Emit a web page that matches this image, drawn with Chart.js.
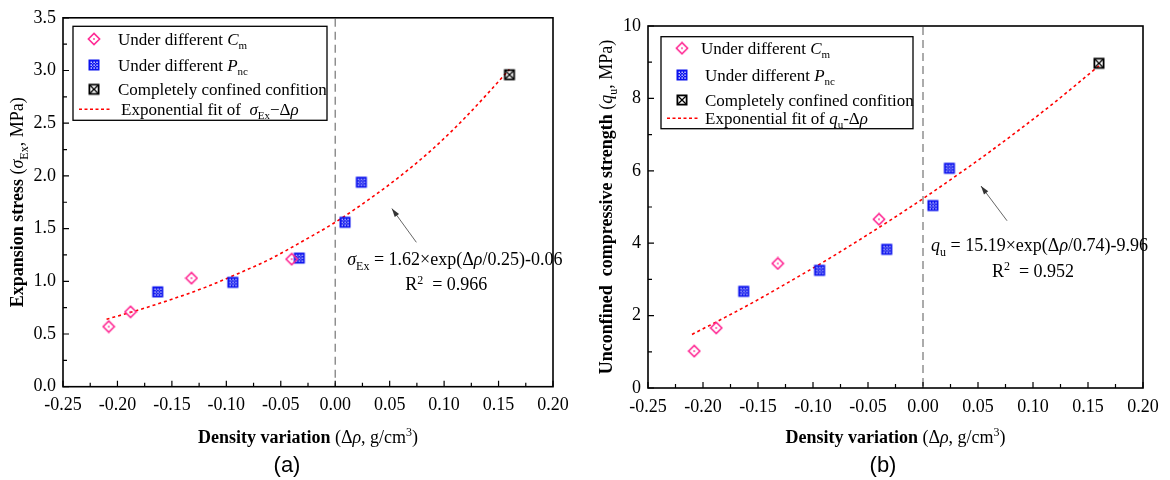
<!DOCTYPE html>
<html>
<head>
<meta charset="utf-8">
<script src="https://cdn.jsdelivr.net/npm/chart.js@4.4.0/dist/chart.umd.min.js"></script>
<style>
  html, body { margin: 0; padding: 0; background: #fff; }
  #wrap { position: relative; width: 1170px; height: 480px; }
  canvas { position: absolute; top: 0; }
  #chartA { left: 0; }
  #chartB { left: 585px; }
</style>
</head>
<body>
<div id="wrap">
  <canvas id="chartA" width="585" height="480"></canvas>
  <canvas id="chartB" width="585" height="480"></canvas>
</div>
<script>
// density variation of each specimen group (g/cm3)
var densityCm = [-0.208, -0.188, -0.132, -0.040];
var densityPnc = [-0.163, -0.094, -0.033, 0.009, 0.024];
var densityConfined = [0.160];
var densityFit = [-0.21, -0.18, -0.15, -0.12, -0.09, -0.06, -0.03, 0, 0.03, 0.06, 0.09, 0.12, 0.16];

// (a) expansion stress, MPa
var stressCm = [0.57, 0.71, 1.03, 1.21];
var stressPnc = [0.90, 0.99, 1.22, 1.56, 1.94];
var stressConfined = [2.96];
var stressFit = [0.64, 0.73, 0.83, 0.94, 1.07, 1.21, 1.38, 1.56, 1.77, 2.00, 2.26, 2.56, 3.01];

// (b) unconfined compressive strength, MPa
var strengthCm = [1.02, 1.66, 3.44, 4.66];
var strengthPnc = [2.67, 3.25, 3.83, 5.04, 6.07];
var strengthConfined = [8.97];
var strengthFit = [1.48, 1.95, 2.44, 2.96, 3.49, 4.05, 4.63, 5.23, 5.86, 6.51, 7.19, 7.90, 8.90];

var SERIF = "'Liberation Serif', 'Times New Roman', serif";
var PINK = '#ff2b95';
var BLUE = '#0b12ee';

function pts(xs, ys) {
  return xs.map(function (x, i) { return { x: x, y: ys[i] }; });
}

// marker symbols drawn once on small canvases and used as pointStyle
function marker(kind) {
  var c = document.createElement('canvas');
  c.width = 14; c.height = 14;
  var g = c.getContext('2d');
  if (kind === 'diamond') {
    g.strokeStyle = PINK; g.lineWidth = 1.6;
    g.beginPath();
    g.moveTo(7, 1.4); g.lineTo(12.6, 7); g.lineTo(7, 12.6); g.lineTo(1.4, 7); g.closePath();
    g.stroke();
    g.fillStyle = PINK;
    g.fillRect(6.2, 6.2, 1.6, 1.6);
  } else if (kind === 'hatch') {
    g.fillStyle = BLUE;
    g.fillRect(1.5, 1.5, 11, 11);
    g.fillStyle = '#ffffff';
    for (var i = 0; i < 3; i++) {
      for (var j = 0; j < 3; j++) {
        g.fillRect(3.6 + i * 2.9, 3.6 + j * 2.9, 1.3, 1.3);
      }
    }
    for (var k = 0; k < 2; k++) {
      for (var m = 0; m < 2; m++) {
        g.globalAlpha = 0.55;
        g.fillRect(5.05 + k * 2.9, 5.05 + m * 2.9, 1.0, 1.0);
        g.globalAlpha = 1;
      }
    }
  } else {
    g.strokeStyle = '#000'; g.lineWidth = 1.8;
    g.strokeRect(2.4, 2.4, 9.2, 9.2);
    g.lineWidth = 1.3;
    g.beginPath();
    g.moveTo(3.2, 3.2); g.lineTo(10.8, 10.8);
    g.moveTo(10.8, 3.2); g.lineTo(3.2, 10.8);
    g.stroke();
  }
  return c;
}
var MK = { diamond: marker('diamond'), hatch: marker('hatch'), box: marker('box') };

// text runs: [text, style] with style b / n / i / sub / sup
function runFont(style, size) {
  if (style === 'b') return 'bold ' + size + 'px ' + SERIF;
  if (style === 'i') return 'italic ' + size + 'px ' + SERIF;
  if (style === 'sub' || style === 'sup') return Math.round(size * 0.64) + 'px ' + SERIF;
  return size + 'px ' + SERIF;
}
function richWidth(ctx, runs, size) {
  var w = 0;
  runs.forEach(function (r) { ctx.font = runFont(r[1], size); w += ctx.measureText(r[0]).width; });
  return w;
}
function drawRich(ctx, runs, x, y, size, align) {
  var w = richWidth(ctx, runs, size);
  var cx = align === 'center' ? x - w / 2 : x;
  var base = y + size * 0.33;
  ctx.textAlign = 'left';
  ctx.textBaseline = 'alphabetic';
  ctx.fillStyle = '#000';
  runs.forEach(function (r) {
    ctx.font = runFont(r[1], size);
    var dy = r[1] === 'sub' ? size * 0.26 : (r[1] === 'sup' ? -size * 0.38 : 0);
    ctx.fillText(r[0], cx, base + dy);
    cx += ctx.measureText(r[0]).width;
  });
}

var panelDecor = {
  id: 'panelDecor',
  beforeDatasetsDraw: function (chart) {
    var a = chart.chartArea, ctx = chart.ctx;
    var x0 = chart.scales.x.getPixelForValue(0);
    ctx.save();
    ctx.strokeStyle = '#7f7f7f';
    ctx.lineWidth = 1.3;
    ctx.setLineDash([8, 5]);
    ctx.beginPath();
    ctx.moveTo(x0, a.top + 1);
    ctx.lineTo(x0, a.bottom);
    ctx.stroke();
    ctx.restore();
  },
  afterDraw: function (chart) {
    var o = chart.options.plugins.panelDecor;
    var a = chart.chartArea, ctx = chart.ctx;
    var sx = chart.scales.x, sy = chart.scales.y;
    ctx.save();

    // frame
    ctx.strokeStyle = '#000';
    ctx.lineWidth = 1.6;
    ctx.strokeRect(a.left, a.top, a.right - a.left, a.bottom - a.top);

    // inward major and minor ticks
    ctx.lineWidth = 1.2;
    ctx.beginPath();
    var xt = sx.ticks.map(function (t) { return t.value; });
    xt.forEach(function (v, i) {
      var p = sx.getPixelForValue(v);
      ctx.moveTo(p, a.bottom); ctx.lineTo(p, a.bottom - 6);
      if (i < xt.length - 1) {
        var m = sx.getPixelForValue((v + xt[i + 1]) / 2);
        ctx.moveTo(m, a.bottom); ctx.lineTo(m, a.bottom - 4);
      }
    });
    var yt = sy.ticks.map(function (t) { return t.value; });
    yt.forEach(function (v, i) {
      var p = sy.getPixelForValue(v);
      ctx.moveTo(a.left, p); ctx.lineTo(a.left + 6, p);
      if (i < yt.length - 1) {
        var m = sy.getPixelForValue((v + yt[i + 1]) / 2);
        ctx.moveTo(a.left, m); ctx.lineTo(a.left + 4, m);
      }
    });
    ctx.stroke();

    // legend box
    var L = o.legend;
    var bx = a.left + L.dx, by = a.top + L.dy;
    ctx.lineWidth = 1.3;
    ctx.strokeRect(bx, by, L.w, L.h);
    var rows = L.rows;
    [MK.diamond, MK.hatch, MK.box].forEach(function (img, i) {
      ctx.drawImage(img, bx + 21 - 7, by + rows[i] - 7);
    });
    ctx.strokeStyle = '#ff0000';
    ctx.lineWidth = 1.5;
    ctx.setLineDash([3, 2.5]);
    ctx.beginPath();
    ctx.moveTo(bx + 6, by + rows[3]);
    ctx.lineTo(bx + 38, by + rows[3]);
    ctx.stroke();
    ctx.setLineDash([]);
    L.labels.forEach(function (runs, i) {
      drawRich(ctx, runs, bx + L.textX[i], by + rows[i], 17, 'left');
    });

    // axis titles
    drawRich(ctx, o.xTitle, (a.left + a.right) / 2, o.xTitleY, 18, 'center');
    ctx.save();
    ctx.translate(o.yTitleX, (a.top + a.bottom) / 2);
    ctx.rotate(-Math.PI / 2);
    drawRich(ctx, o.yTitle, 0, 0, 18, 'center');
    ctx.restore();

    // fitted equation with pointer arrow
    var N = o.note;
    var hx = sx.getPixelForValue(N.head[0]), hy = sy.getPixelForValue(N.head[1]);
    var tx = sx.getPixelForValue(N.tail[0]), ty = sy.getPixelForValue(N.tail[1]);
    ctx.strokeStyle = '#555';
    ctx.fillStyle = '#333';
    ctx.lineWidth = 0.9;
    ctx.beginPath();
    ctx.moveTo(tx, ty); ctx.lineTo(hx, hy);
    ctx.stroke();
    var ang = Math.atan2(hy - ty, hx - tx);
    ctx.beginPath();
    ctx.moveTo(hx, hy);
    ctx.lineTo(hx - 9 * Math.cos(ang - 0.3), hy - 9 * Math.sin(ang - 0.3));
    ctx.lineTo(hx - 9 * Math.cos(ang + 0.3), hy - 9 * Math.sin(ang + 0.3));
    ctx.closePath();
    ctx.fill();
    drawRich(ctx, N.eq, sx.getPixelForValue(N.eqAt[0]), sy.getPixelForValue(N.eqAt[1]), 18, 'left');
    drawRich(ctx, N.r2, sx.getPixelForValue(N.r2At[0]), sy.getPixelForValue(N.r2At[1]), 18, 'center');

    // panel caption
    ctx.font = "22px 'Liberation Sans', Arial, sans-serif";
    ctx.fillStyle = '#000';
    ctx.textAlign = 'center';
    ctx.textBaseline = 'middle';
    ctx.fillText(o.caption, o.captionX, 466);
    ctx.restore();
  }
};

function panel(id, cfg) {
  return new Chart(document.getElementById(id), {
    type: 'scatter',
    data: {
      datasets: [
        { label: 'Cm', data: pts(densityCm, cfg.cm), pointStyle: MK.diamond },
        { label: 'Pnc', data: pts(densityPnc, cfg.pnc), pointStyle: MK.hatch },
        { label: 'Confined', data: pts(densityConfined, cfg.confined), pointStyle: MK.box },
        {
          label: 'Fit', data: pts(densityFit, cfg.fit), showLine: true,
          borderColor: '#ff0000', borderWidth: 1.6, borderDash: [3, 3],
          pointRadius: 0, cubicInterpolationMode: 'monotone', fill: false
        }
      ]
    },
    options: {
      responsive: false,
      animation: false,
      layout: { padding: { left: 0, right: cfg.padRight, top: cfg.padTop, bottom: 0 } },
      scales: {
        x: {
          type: 'linear', min: -0.25, max: 0.2,
          grid: { display: false, drawTicks: false },
          border: { display: false },
          ticks: {
            stepSize: 0.05, padding: 8, color: '#000',
            font: { family: SERIF, size: 18 },
            callback: function (v) { return v.toFixed(2); }
          },
          afterFit: function (s) { s.height = cfg.xAxisH; }
        },
        y: {
          min: 0, max: cfg.yMax,
          grid: { display: false, drawTicks: false },
          border: { display: false },
          ticks: {
            stepSize: cfg.yStep, padding: 7, color: '#000',
            font: { family: SERIF, size: 18 },
            callback: function (v) { return v.toFixed(cfg.yDigits); }
          },
          afterFit: function (s) { s.width = 63; }
        }
      },
      plugins: {
        legend: { display: false },
        tooltip: { enabled: false },
        panelDecor: cfg.decor
      }
    },
    plugins: [panelDecor]
  });
}

panel('chartA', {
  cm: stressCm, pnc: stressPnc, confined: stressConfined, fit: stressFit,
  yMax: 3.5, yStep: 0.5, yDigits: 1,
  padRight: 32, padTop: 14.5, xAxisH: 93.3,
  decor: {
    caption: '(a)', captionX: 287,
    xTitleY: 437, yTitleX: 17,
    xTitle: [['Density variation ', 'b'], ['(\u0394', 'n'], ['\u03c1', 'i'], [', g/cm', 'n'], ['3', 'sup'], [')', 'n']],
    yTitle: [['Expansion stress ', 'b'], ['(', 'n'], ['\u03c3', 'i'], ['Ex', 'sub'], [', MPa)', 'n']],
    legend: {
      dx: 10, dy: 8.5, w: 254, h: 94, rows: [12.7, 38.7, 63, 83], textX: [45, 45, 45, 48],
      labels: [
        [['Under different ', 'n'], ['C', 'i'], ['m', 'sub']],
        [['Under different ', 'n'], ['P', 'i'], ['nc', 'sub']],
        [['Completely confined confition', 'n']],
        [['Exponential fit of  ', 'n'], ['\u03c3', 'i'], ['Ex', 'sub'], ['\u2212\u0394', 'n'], ['\u03c1', 'i']]
      ]
    },
    note: {
      head: [0.052, 1.69], tail: [0.0745, 1.37],
      eqAt: [0.011, 1.21], r2At: [0.102, 0.97],
      eq: [['\u03c3', 'i'], ['Ex', 'sub'], [' = 1.62\u00d7exp(\u0394', 'n'], ['\u03c1', 'i'], ['/0.25)-0.06', 'n']],
      r2: [['R', 'n'], ['2', 'sup'], ['  = 0.966', 'n']]
    }
  }
});

panel('chartB', {
  cm: strengthCm, pnc: strengthPnc, confined: strengthConfined, fit: strengthFit,
  yMax: 10, yStep: 2, yDigits: 0,
  padRight: 27, padTop: 26, xAxisH: 92,
  decor: {
    caption: '(b)', captionX: 298,
    xTitleY: 437, yTitleX: 21,
    xTitle: [['Density variation ', 'b'], ['(\u0394', 'n'], ['\u03c1', 'i'], [', g/cm', 'n'], ['3', 'sup'], [')', 'n']],
    yTitle: [['Unconfined  compressive strength ', 'b'], ['(', 'n'], ['q', 'i'], ['u', 'sub'], [', MPa)', 'n']],
    legend: {
      dx: 13, dy: 10.7, w: 252, h: 92, rows: [11.5, 38.3, 63.3, 81.5], textX: [40, 44, 44, 44],
      labels: [
        [['Under different ', 'n'], ['C', 'i'], ['m', 'sub']],
        [['Under different ', 'n'], ['P', 'i'], ['nc', 'sub']],
        [['Completely confined confition', 'n']],
        [['Exponential fit of ', 'n'], ['q', 'i'], ['u', 'sub'], ['-\u0394', 'n'], ['\u03c1', 'i']]
      ]
    },
    note: {
      head: [0.0527, 5.58], tail: [0.0764, 4.62],
      eqAt: [0.0073, 3.95], r2At: [0.100, 3.24],
      eq: [['q', 'i'], ['u', 'sub'], [' = 15.19\u00d7exp(\u0394', 'n'], ['\u03c1', 'i'], ['/0.74)-9.96', 'n']],
      r2: [['R', 'n'], ['2', 'sup'], ['  = 0.952', 'n']]
    }
  }
});
</script>
</body>
</html>
